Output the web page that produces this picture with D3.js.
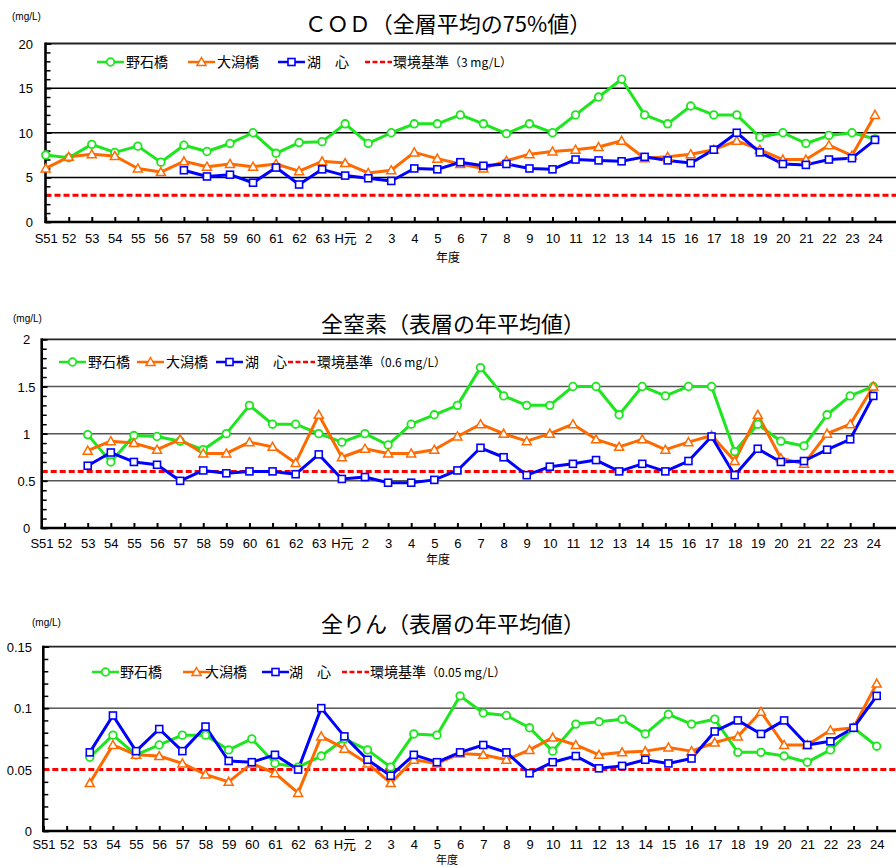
<!DOCTYPE html>
<html>
<head>
<meta charset="utf-8">
<script src="https://cdn.jsdelivr.net/npm/d3@7"></script>
<style>
  body { margin: 0; background: #fff; }
  svg { display: block; font-family: "Liberation Sans", "Noto Sans CJK JP", sans-serif; }
</style>
</head>
<body>
<svg id="chart" width="896" height="867"></svg>
<script>
// 年度 (categories)
const years = ['S51','52','53','54','55','56','57','58','59','60','61','62','63','H元',
  '2','3','4','5','6','7','8','9','10','11','12','13','14','15','16','17','18','19','20','21','22','23','24'];

const seriesNames = ['野石橋', '大潟橋', '湖　心'];

// COD (全層平均の75%値)
const codNoishi = [7.5,7.2,8.7,7.8,8.5,6.7,8.6,7.9,8.8,10.0,7.7,8.9,9.0,11.0,
  8.8,10.0,11.0,11.0,12.0,11.0,9.9,11.0,10.0,12.0,14.0,16.0,12.0,11.0,13.0,12.0,12.0,9.5,10.0,8.8,9.7,10.0,9.3];
const codOgata = [6.0,7.3,7.6,7.4,6.0,5.6,6.8,6.2,6.5,6.2,6.5,5.7,6.8,6.6,
  5.5,5.8,7.8,7.1,6.5,6.0,6.85,7.6,7.9,8.1,8.4,9.1,7.15,7.3,7.6,8.1,9.1,8.1,7.0,7.0,8.6,7.45,12.0];
const codKoshin = [null,null,null,null,null,null,5.8,5.1,5.3,4.4,6.1,4.2,5.9,5.2,
  4.9,4.6,6.0,5.9,6.7,6.3,6.5,6.0,5.9,7.0,6.9,6.8,7.3,6.9,6.6,8.1,10.0,7.8,6.5,6.4,7.0,7.15,9.2];
const codStandard = 3;

// 全窒素 (表層の年平均値)
const tnNoishi = [null,null,0.99,0.70,0.98,0.97,0.92,0.83,1.0,1.30,1.10,1.10,1.0,0.91,
  1.0,0.88,1.10,1.20,1.30,1.70,1.40,1.30,1.30,1.50,1.50,1.20,1.50,1.40,1.50,1.50,0.81,1.10,0.92,0.87,1.20,1.40,1.50];
const tnOgata = [null,null,0.82,0.92,0.90,0.83,0.94,0.79,0.79,0.91,0.86,0.69,1.20,0.75,
  0.84,0.79,0.79,0.83,0.97,1.10,1.0,0.92,1.0,1.10,0.94,0.86,0.94,0.83,0.91,0.98,0.71,1.20,0.74,0.68,1.0,1.10,1.50];
const tnKoshin = [null,null,0.66,0.80,0.70,0.67,0.50,0.61,0.58,0.60,0.60,0.57,0.78,0.52,
  0.54,0.48,0.48,0.51,0.61,0.85,0.75,0.56,0.65,0.68,0.72,0.60,0.68,0.60,0.71,0.97,0.56,0.84,0.70,0.71,0.83,0.94,1.40];
const tnStandard = 0.6;

// 全りん (表層の年平均値)
const tpNoishi = [null,null,0.060,0.078,0.062,0.070,0.078,0.078,0.066,0.075,0.055,0.052,0.061,0.075,
  0.066,0.052,0.079,0.078,0.110,0.096,0.094,0.084,0.065,0.087,0.089,0.091,0.079,0.095,0.087,0.091,0.064,0.064,0.061,0.056,0.066,0.084,0.069];
const tpOgata = [null,null,0.039,0.070,0.062,0.061,0.055,0.046,0.040,0.055,0.047,0.031,0.077,0.067,
  0.055,0.039,0.058,0.055,0.063,0.062,0.058,0.066,0.076,0.070,0.062,0.064,0.065,0.068,0.065,0.072,0.077,0.097,0.070,0.070,0.082,0.084,0.120];
const tpKoshin = [null,null,0.064,0.094,0.065,0.083,0.065,0.085,0.057,0.056,0.062,0.050,0.100,0.077,
  0.058,0.045,0.062,0.056,0.064,0.070,0.064,0.047,0.056,0.061,0.051,0.053,0.058,0.055,0.059,0.081,0.090,0.079,0.090,0.070,0.073,0.084,0.110];
const tpStandard = 0.05;

const colors = ['#1ee61e', '#ff6a00', '#0000ff'];
const stdColor = '#ff0000';
const svg = d3.select('#chart');

// marker shapes: circle, triangle, square
function drawMarker(g, kind, x, y, color) {
    if (kind === 0) {
        g.append('circle').attr('cx', x).attr('cy', y).attr('r', 3.8)
            .attr('fill', '#fff').attr('stroke', color).attr('stroke-width', 1.8);
    } else if (kind === 1) {
        g.append('path')
            .attr('d', `M${x},${y - 4.5}L${x + 4.5},${y + 3.5}L${x - 4.5},${y + 3.5}Z`)
            .attr('fill', '#fff').attr('stroke', color).attr('stroke-width', 1.5);
    } else {
        g.append('rect').attr('x', x - 3.5).attr('y', y - 3.5).attr('width', 7).attr('height', 7)
            .attr('fill', '#fff').attr('stroke', color).attr('stroke-width', 1.6);
    }
}

function drawChart(cfg) {
    const g = svg.append('g');

    const x = d3.scalePoint().domain(years).range([cfg.xFirst, cfg.xLast]);
    const y = d3.scaleLinear().domain([0, cfg.yMax]).range([cfg.bottom, cfg.top]);

    // Title and unit
    g.append('text')
        .attr('x', cfg.titleX).attr('y', cfg.titleY)
        .attr('text-anchor', 'middle')
        .style('font-family', '"Noto Sans CJK JP", sans-serif')
        .style('font-size', '22px')
        .text(cfg.title);

    g.append('text')
        .attr('x', cfg.unitX).attr('y', cfg.unitY)
        .style('font-size', '10px')
        .text('(mg/L)');

    // Grid lines
    cfg.grid.forEach(v => {
        g.append('line')
            .attr('x1', cfg.left).attr('x2', cfg.right)
            .attr('y1', y(v)).attr('y2', y(v))
            .attr('stroke', cfg.gridColor)
            .attr('stroke-width', cfg.gridWidth);
    });
    // top border
    g.append('line')
        .attr('x1', cfg.left).attr('x2', cfg.right)
        .attr('y1', y(cfg.yMax)).attr('y2', y(cfg.yMax))
        .attr('stroke', '#222').attr('stroke-width', 1.8);

    // Minor y ticks
    const minor = d3.range(0, cfg.yMax + cfg.minorStep / 2, cfg.minorStep);
    g.append('g')
        .attr('transform', `translate(${cfg.left},0)`)
        .call(d3.axisLeft(y).tickValues(minor).tickSize(-5).tickFormat(''))
        .call(a => a.select('.domain').remove())
        .selectAll('line').attr('stroke', '#000').attr('stroke-width', 1.5);

    // Y axis labels
    const yAxis = g.append('g')
        .attr('transform', `translate(${cfg.left},0)`)
        .call(d3.axisLeft(y).tickValues(cfg.yTicks).tickSize(-6).tickFormat(d => String(d)));
    yAxis.select('.domain').remove();
    yAxis.selectAll('line').attr('stroke', '#000').attr('stroke-width', 1.5);
    yAxis.selectAll('text')
        .attr('x', cfg.yLabelX - cfg.left)
        .attr('dy', '0.35em')
        .attr('text-anchor', cfg.yLabelAnchor)
        .style('font-size', '13px')
        .style('font-family', '"Liberation Sans", sans-serif')
        .attr('fill', '#000');

    // X axis
    const xAxis = g.append('g')
        .attr('transform', `translate(0,${cfg.bottom})`)
        .call(d3.axisBottom(x).tickSize(-5).tickSizeOuter(0));
    xAxis.select('.domain').remove();
    xAxis.selectAll('line').attr('stroke', '#000').attr('stroke-width', 2);
    xAxis.selectAll('text')
        .attr('y', cfg.xLabelY - cfg.bottom)
        .attr('dy', 0)
        .style('font-size', '13px')
        .style('font-family', '"Liberation Sans", "Noto Sans CJK JP", sans-serif')
        .attr('fill', '#000');

    g.append('text')
        .attr('x', cfg.nendoX).attr('y', cfg.nendoY)
        .attr('text-anchor', 'middle')
        .style('font-size', cfg.nendoSize)
        .text('年度');

    // Environmental standard
    g.append('line')
        .attr('x1', cfg.left).attr('x2', cfg.right)
        .attr('y1', y(cfg.standard)).attr('y2', y(cfg.standard))
        .attr('stroke', stdColor).attr('stroke-width', 3)
        .attr('stroke-dasharray', '6,3');

    // Axis lines
    g.append('line')
        .attr('x1', cfg.left).attr('x2', cfg.left)
        .attr('y1', cfg.top - 1).attr('y2', cfg.bottom + 1)
        .attr('stroke', '#000').attr('stroke-width', 2.6);
    g.append('line')
        .attr('x1', cfg.left - 1).attr('x2', cfg.right)
        .attr('y1', cfg.bottom).attr('y2', cfg.bottom)
        .attr('stroke', '#000').attr('stroke-width', 2.6);

    // Series lines and markers
    const line = d3.line()
        .defined(d => d.v !== null)
        .x(d => x(d.year))
        .y(d => y(d.v));

    cfg.series.forEach((vals, i) => {
        const pts = vals.map((v, j) => ({ year: years[j], v: v }));
        g.append('path')
            .datum(pts)
            .attr('d', line)
            .attr('fill', 'none')
            .attr('stroke', colors[i])
            .attr('stroke-width', 3)
            .attr('stroke-linejoin', 'round');
    });
    cfg.series.forEach((vals, i) => {
        vals.forEach((v, j) => {
            if (v !== null) drawMarker(g, i, x(years[j]), y(v), colors[i]);
        });
    });

    // Legend
    const lg = g.append('g');
    seriesNames.forEach((name, i) => {
        const lx = cfg.legendLineX[i];
        lg.append('line')
            .attr('x1', lx).attr('x2', lx + 27)
            .attr('y1', cfg.legendY).attr('y2', cfg.legendY)
            .attr('stroke', colors[i]).attr('stroke-width', 2.5);
        drawMarker(lg, i, lx + 13.5, cfg.legendY, colors[i]);
        lg.append('text')
            .attr('x', cfg.legendTextX[i]).attr('y', cfg.legendY + 5)
            .style('font-family', '"Noto Sans CJK JP", sans-serif')
            .style('font-size', '14px')
            .text(name);
    });
    const sx = cfg.legendLineX[3];
    lg.append('line')
        .attr('x1', sx).attr('x2', sx + 27)
        .attr('y1', cfg.legendY).attr('y2', cfg.legendY)
        .attr('stroke', stdColor).attr('stroke-width', 2.5)
        .attr('stroke-dasharray', '5,2.5');
    lg.append('text')
        .attr('x', cfg.legendTextX[3]).attr('y', cfg.legendY + 5)
        .style('font-family', '"Noto Sans CJK JP", sans-serif')
        .style('font-size', '14px')
        .text('環境基準')
        .append('tspan')
        .style('font-size', '12px')
        .text(`（${cfg.standard} mg/L）`);
}

drawChart({
    title: 'ＣＯＤ（全層平均の75%値）', titleX: 448, titleY: 32,
    unitX: 12, unitY: 20,
    top: 43.5, bottom: 222, left: 45.5, right: 896, xFirst: 45.7, xLast: 875,
    yMax: 20, yTicks: [0, 5, 10, 15, 20], minorStep: 1,
    grid: [5, 10, 15], gridColor: '#000', gridWidth: 1.5,
    yLabelX: 33, yLabelAnchor: 'end', xLabelY: 243, nendoX: 448, nendoY: 262, nendoSize: '12px',
    standard: codStandard, series: [codNoishi, codOgata, codKoshin],
    legendY: 62, legendLineX: [97, 188, 278, 365], legendTextX: [126, 217, 307, 393]
});

drawChart({
    title: '全窒素（表層の年平均値）', titleX: 453, titleY: 332,
    unitX: 13, unitY: 322,
    top: 339.3, bottom: 528, left: 41.7, right: 896, xFirst: 41.5, xLast: 873.3,
    yMax: 2, yTicks: [0, 0.5, 1, 1.5, 2], minorStep: 0.1,
    grid: [0.5, 1, 1.5], gridColor: '#555', gridWidth: 1.5,
    yLabelX: 26.5, yLabelAnchor: 'middle', xLabelY: 548, nendoX: 438, nendoY: 564, nendoSize: '12px',
    standard: tnStandard, series: [tnNoishi, tnOgata, tnKoshin],
    legendY: 362, legendLineX: [59, 137, 216, 288], legendTextX: [88, 166, 245, 317]
});

drawChart({
    title: '全りん（表層の年平均値）', titleX: 453, titleY: 632,
    unitX: 32, unitY: 626,
    top: 646.7, bottom: 831, left: 43.3, right: 896, xFirst: 43.5, xLast: 876.7,
    yMax: 0.15, yTicks: [0, 0.05, 0.1, 0.15], minorStep: 0.01,
    grid: [0.1], gridColor: '#000', gridWidth: 1,
    yLabelX: 32, yLabelAnchor: 'end', xLabelY: 849, nendoX: 447, nendoY: 864, nendoSize: '11px',
    standard: tpStandard, series: [tpNoishi, tpOgata, tpKoshin],
    legendY: 672, legendLineX: [92, 183, 262, 342], legendTextX: [120, 205, 289, 370]
});
</script>
</body>
</html>
